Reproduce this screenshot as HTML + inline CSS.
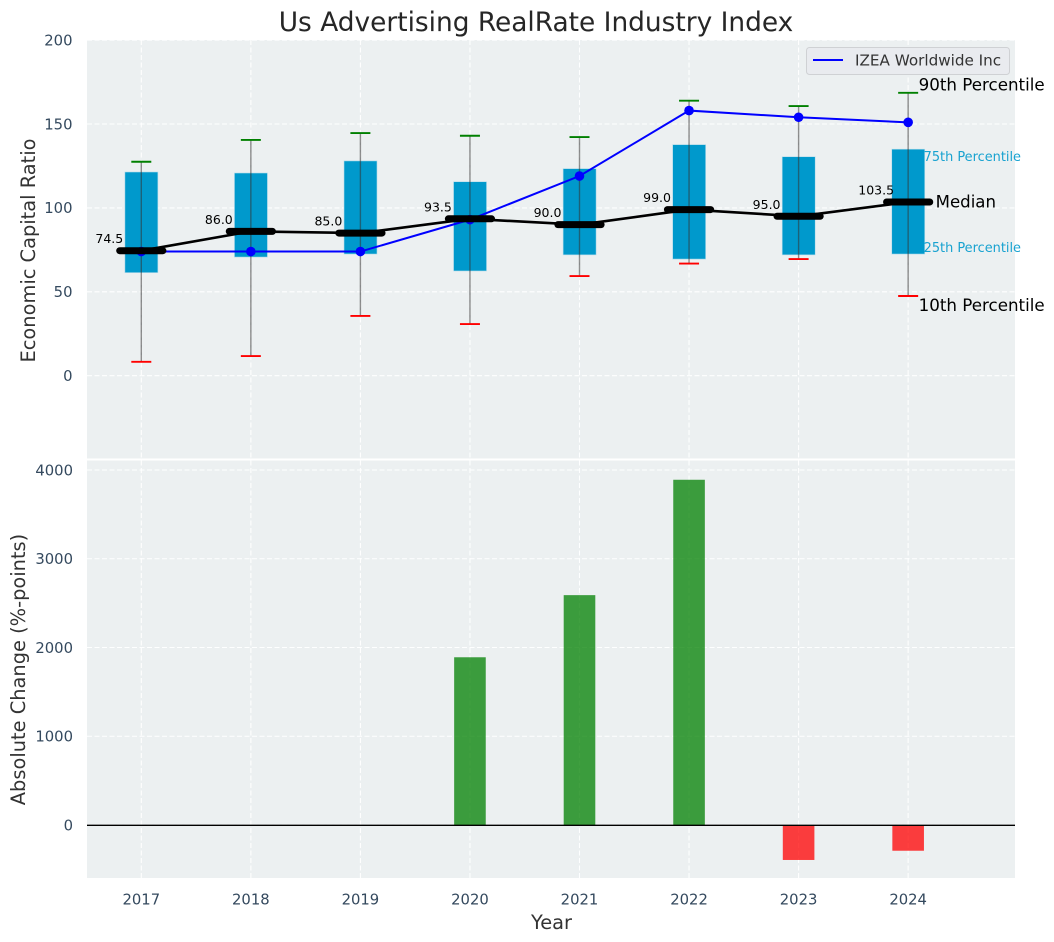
<!DOCTYPE html>
<html lang="en">
<head>
<meta charset="utf-8">
<title>Us Advertising RealRate Industry Index</title>
<style>
html,body{margin:0;padding:0;background:#fff;width:1054px;height:942px;overflow:hidden}
svg{display:block;font-family:"DejaVu Sans","Liberation Sans",sans-serif}
</style>
</head>
<body>
<svg id="chart" xmlns="http://www.w3.org/2000/svg" width="1054" height="942" viewBox="0 0 1054 942">
  <rect x="0" y="0" width="1054" height="942" fill="#ffffff"/>
  <text x="536" y="31" text-anchor="middle" font-size="26.4" fill="#262626">Us Advertising RealRate Industry Index</text>
  <rect x="87" y="40" width="928" height="418.5" fill="#ecf0f1"/>
  <rect x="87" y="460.5" width="928" height="417.5" fill="#ecf0f1"/>
  <g id="top-grid"></g>
  <g id="bottom-grid"></g>
  <g id="boxes"></g>
  <g id="whiskers"></g>
  <g id="median-line"></g>
  <g id="company-line"></g>
  <g id="median-bars"></g>
  <g id="median-labels"></g>
  <g id="change-bars"></g>
  <line x1="87" x2="1015" y1="825.3" y2="825.3" stroke="#000000" stroke-width="1.4"/>
  <g id="ticks"></g>
  <g id="annotations"></g>
  <text transform="translate(35 250.5) rotate(-90)" text-anchor="middle" font-size="19.4" fill="#333333">Economic Capital Ratio</text>
  <text transform="translate(25 669.5) rotate(-90)" text-anchor="middle" font-size="19.4" fill="#333333">Absolute Change (%-points)</text>
  <text x="551.5" y="929" text-anchor="middle" font-size="19.4" fill="#333333">Year</text>
  <g>
    <rect x="806.5" y="47.5" width="203" height="27" rx="3" fill="#e9ebef" stroke="#cfd1d4" stroke-width="1"/>
    <line x1="813" x2="843" y1="60" y2="60" stroke="#0000ff" stroke-width="2"/>
    <text x="855" y="65.5" font-size="15.2" fill="#333333">IZEA Worldwide Inc</text>
  </g>
</svg>
<script>
const years = [2017, 2018, 2019, 2020, 2021, 2022, 2023, 2024];
const p10 = [8.3, 11.7, 35.6, 30.8, 59.4, 66.8, 69.5, 47.5];
const p25 = [61.4, 70.7, 72.5, 62.4, 72, 69.5, 72, 72.5];
const medians = [74.5, 86.0, 85.0, 93.5, 90.0, 99.0, 95.0, 103.5];
const p75 = [121.4, 120.8, 128, 115.6, 123.4, 137.7, 130.5, 135];
const p90 = [127.5, 140.5, 144.6, 143, 142.2, 163.9, 160.7, 168.6];
const company = [74, 74, 74, 93, 119, 158, 154, 151];
const absoluteChange = [0, 0, 0, 1890, 2590, 3890, -394, -290];
const topTicks = [0, 50, 100, 150, 200];
const bottomTicks = [0, 1000, 2000, 3000, 4000];

const xScale = v => 141.3 + 109.55 * (v - 2017);
const yTop = v => 375.7 - 1.678 * v;
const yBottom = v => 825 - 0.08875 * v;
const NS = 'http://www.w3.org/2000/svg';
function make(parentId, tag, props, txt) {
  const el = document.createElementNS(NS, tag);
  for (const k in props) el.setAttribute(k, props[k]);
  if (txt !== undefined) el.textContent = txt;
  document.getElementById(parentId).appendChild(el);
  return el;
}
const gridStyle = {stroke: '#ffffff', 'stroke-width': 1.1, 'stroke-dasharray': '5 2.5', 'stroke-opacity': 0.95};

topTicks.forEach(t => {
  const g = make('top-grid', 'line', {x1: 87, x2: 1015, y1: yTop(t), y2: yTop(t), ...gridStyle});
  
  
  const l = make('ticks', 'text', {x: 72.5, y: yTop(t) + 5.3, 'text-anchor': 'end', 'font-size': 14.8, fill: '#34495e'}, String(t));
  
  
});
bottomTicks.forEach(t => {
  const g = make('bottom-grid', 'line', {x1: 87, x2: 1015, y1: yBottom(t), y2: yBottom(t), ...gridStyle});
  
  
  const l = make('ticks', 'text', {x: 73, y: yBottom(t) + 5.3, 'text-anchor': 'end', 'font-size': 14.8, fill: '#34495e'}, String(t));
  
  
});

years.forEach((yr, i) => {
  const x = xScale(yr);
  const g1 = make('top-grid', 'line', {x1: x, x2: x, y1: 40, y2: 458.5, ...gridStyle});
  
  
  const g2 = make('bottom-grid', 'line', {x1: x, x2: x, y1: 460.5, y2: 878, ...gridStyle});
  
  
  const tick = make('ticks', 'text', {x: x, y: 904.5, 'text-anchor': 'middle', 'font-size': 14.8, fill: '#34495e'}, String(yr));
  
  

  const box = make('boxes', 'rect', {x: x - 16.4, y: yTop(p75[i]), width: 33, height: yTop(p25[i]) - yTop(p75[i]), fill: '#0099cc', stroke: '#b5dcea', 'stroke-width': 0.6});
  
  

  const whisker = make('whiskers', 'line', {x1: x, x2: x, y1: yTop(p10[i]), y2: yTop(p90[i]), stroke: '#333333', 'stroke-opacity': 0.55, 'stroke-width': 1.4});
  
  
  const capHigh = make('whiskers', 'line', {x1: x - 10, x2: x + 10, y1: yTop(p90[i]), y2: yTop(p90[i]), stroke: '#008000', 'stroke-width': 1.9});
  
  
  const capLow = make('whiskers', 'line', {x1: x - 10, x2: x + 10, y1: yTop(p10[i]), y2: yTop(p10[i]), stroke: '#ff0000', 'stroke-width': 1.9});
  
  

  const mb = make('median-bars', 'line', {x1: x - 21.6, x2: x + 21.6, y1: yTop(medians[i]), y2: yTop(medians[i]), stroke: '#000000', 'stroke-width': 7, 'stroke-linecap': 'round'});
  
  
  const ml = make('median-labels', 'text', {x: x - 32, y: yTop(medians[i]) - 7.5, 'text-anchor': 'middle', 'font-size': 12.5, fill: '#000000'}, medians[i].toFixed(1));
  
  

  const cm = make('company-line', 'circle', {cx: x, cy: yTop(company[i]), r: 4.8, fill: '#0000ff'});
  
  

  const v = absoluteChange[i];
  if (v !== 0) {
    const top = Math.min(yBottom(v), yBottom(0));
    const bar = make('change-bars', 'rect', {x: x - 15.8, y: top, width: 31.6, height: Math.abs(yBottom(v) - yBottom(0)), fill: v > 0 ? '#008000' : '#ff0000', 'fill-opacity': 0.75});
    
    
  }
});

const toPoints = vals => vals.map((v, i) => xScale(years[i]) + ',' + yTop(v)).join(' ');
const medianPath = make('median-line', 'polyline', {points: toPoints(medians), fill: 'none', stroke: '#000000', 'stroke-width': 2.6});


const companyPath = make('company-line', 'polyline', {points: toPoints(company), fill: 'none', stroke: '#0000ff', 'stroke-width': 2});



const last = years.length - 1;
const lastX = xScale(years[last]);
const p90Note = make('annotations', 'text', {x: lastX + 10.5, y: yTop(p90[last]) - 2.5, 'font-size': 16.7, fill: '#000000'}, '90th Percentile');


const p75Note = make('annotations', 'text', {x: lastX + 15.5, y: yTop(p75[last]) + 12, 'font-size': 12.9, fill: '#0099cc', 'fill-opacity': 0.9}, '75th Percentile');


const medNote = make('annotations', 'text', {x: lastX + 27.5, y: yTop(medians[last]) + 5.5, 'font-size': 16.6, fill: '#000000'}, 'Median');


const p25Note = make('annotations', 'text', {x: lastX + 15.5, y: yTop(p25[last]) - 2, 'font-size': 12.9, fill: '#0099cc', 'fill-opacity': 0.9}, '25th Percentile');


const p10Note = make('annotations', 'text', {x: lastX + 10.5, y: yTop(p10[last]) + 15, 'font-size': 16.7, fill: '#000000'}, '10th Percentile');


</script>
</body>
</html>
